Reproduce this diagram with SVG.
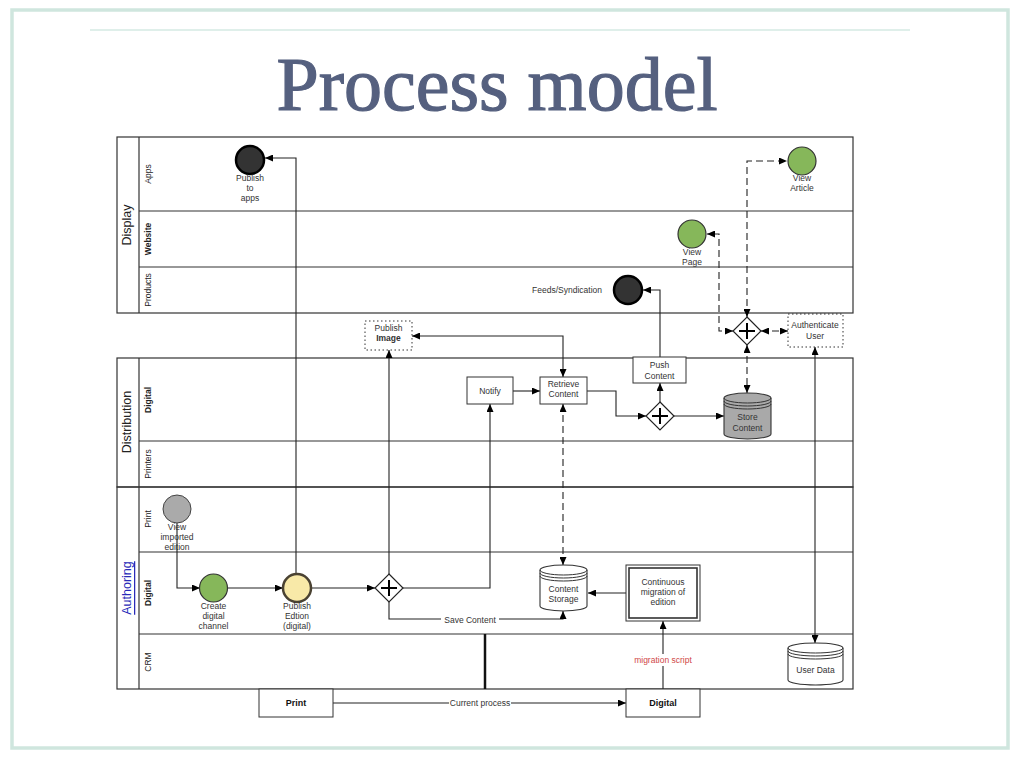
<svg xmlns="http://www.w3.org/2000/svg" width="1024" height="768" viewBox="0 0 1024 768">
<defs>
<marker id="arr" viewBox="0 0 8 7" refX="8" refY="3.5" markerWidth="8" markerHeight="7" markerUnits="userSpaceOnUse" orient="auto-start-reverse">
<path d="M0,0 L8,3.5 L0,7 z" fill="#000"/>
</marker>
<g id="plus"><path d="M-8,0 H8 M0,-8 V8" stroke="#000" stroke-width="2"/></g>
</defs>
<style>
.pool{fill:none;stroke:#333;stroke-width:1.2}
.lane{stroke:#333;stroke-width:1.2}
.t{font-family:"Liberation Sans",Arial,sans-serif;font-size:8.5px;fill:#333;text-anchor:middle}
.lbl{font-family:"Liberation Sans",Arial,sans-serif;font-size:8.5px;fill:#222;text-anchor:middle;dominant-baseline:central}
.b{font-weight:bold}
.plbl{font-family:"Liberation Sans",Arial,sans-serif;font-size:12.5px;fill:#222;text-anchor:middle;dominant-baseline:central}
.box{fill:#fff;stroke:#333;stroke-width:1}
.dot{fill:#fff;stroke:#333;stroke-width:1;stroke-dasharray:1.5,2.5}
.gw{fill:#fff;stroke:#222;stroke-width:1.2}
.c{fill:none;stroke:#222;stroke-width:1.1}
.d{fill:none;stroke:#222;stroke-width:1.1;stroke-dasharray:7,4}
.ah{marker-end:url(#arr)}
.ab{marker-end:url(#arr);marker-start:url(#arr)}
</style>
<rect width="1024" height="768" fill="#fff"/>
<!-- slide frame -->
<rect x="12" y="10" width="996" height="738" fill="none" stroke="#cfe6de" stroke-width="3.5"/>
<line x1="90" y1="30" x2="910" y2="30" stroke="#bfe0d6" stroke-width="1.2"/>
<text x="497" y="110" font-family="'Liberation Serif','Times New Roman',serif" font-size="76" fill="#55607f" stroke="#55607f" stroke-width="1.2" text-anchor="middle">Process model</text>

<!-- pools -->
<g id="pool-display">
<rect class="pool" x="117" y="137" width="736" height="176"/>
<line class="lane" x1="139" y1="137" x2="139" y2="313"/>
<line class="lane" x1="139" y1="211" x2="853" y2="211"/>
<line class="lane" x1="139" y1="267" x2="853" y2="267"/>
<text class="plbl" transform="translate(127,225) rotate(-90)">Display</text>
<text class="lbl" transform="translate(148,174) rotate(-90)">Apps</text>
<text class="lbl b" transform="translate(148,239) rotate(-90)">Website</text>
<text class="lbl" transform="translate(148,290) rotate(-90)">Products</text>
</g>
<g id="pool-distribution">
<rect class="pool" x="117" y="358" width="736" height="129"/>
<line class="lane" x1="139" y1="358" x2="139" y2="487"/>
<line class="lane" x1="139" y1="441" x2="853" y2="441"/>
<text class="plbl" transform="translate(127,422) rotate(-90)">Distribution</text>
<text class="lbl b" transform="translate(148,400) rotate(-90)">Digital</text>
<text class="lbl" transform="translate(148,464) rotate(-90)">Printers</text>
</g>
<g id="pool-authoring">
<rect class="pool" x="117" y="487" width="736" height="202"/>
<line class="lane" x1="139" y1="487" x2="139" y2="689"/>
<line class="lane" x1="139" y1="552" x2="853" y2="552"/>
<line class="lane" x1="139" y1="634" x2="853" y2="634"/>
<text class="plbl" transform="translate(127,588) rotate(-90)" style="fill:#2a2ab8;text-decoration:underline">Authoring</text>
<text class="lbl" transform="translate(148,519) rotate(-90)">Print</text>
<text class="lbl b" transform="translate(148,593) rotate(-90)">Digital</text>
<text class="lbl" transform="translate(148,662) rotate(-90)">CRM</text>
</g>

<!-- connectors -->
<g id="connectors">
<polyline class="c ah" points="296,574 296,158 265,158"/>
<polyline class="d ab" points="747,317 747,161 787,161"/>
<polyline class="d ab" points="733,331 719,331 719,234 707,234"/>
<polyline class="c ah" points="660,357 660,290 643,290"/>
<line class="d ab" x1="761" y1="331" x2="788" y2="331"/>
<line class="c ab" x1="815" y1="347" x2="815" y2="643"/>
<line class="d ab" x1="747" y1="345" x2="747" y2="393"/>
<polyline class="c ab" points="563,377 563,336 412,336"/>
<line class="c ah" x1="389" y1="574" x2="389" y2="350"/>
<line class="c ah" x1="513" y1="391" x2="540" y2="391"/>
<polyline class="c ah" points="403,588 490,588 490,404"/>
<polyline class="c ah" points="587,391 616,391 616,416 646,416"/>
<line class="c ah" x1="660" y1="402" x2="660" y2="383"/>
<line class="c ah" x1="673" y1="416" x2="724" y2="416"/>
<line class="d ab" x1="563" y1="404" x2="563" y2="565"/>
<polyline class="c ah" points="177,523 177,588 200,588"/>
<line class="c ah" x1="227" y1="588" x2="283" y2="588"/>
<line class="c ah" x1="311" y1="588" x2="375" y2="588"/>
<polyline class="c ah" points="389,602 389,619 563,619 563,611"/>
<rect x="441" y="613" width="58" height="12" fill="#fff"/>
<text class="t" x="470" y="622.5">Save Content</text>
<line class="c ah" x1="626" y1="593" x2="588" y2="593"/>
<line class="c ah" x1="663" y1="689" x2="663" y2="621"/>
<rect x="632" y="654" width="62" height="12" fill="#fff"/>
<text class="t" x="663" y="663" style="fill:#d04848">migration script</text>
<line class="c ah" x1="333" y1="703" x2="626" y2="703"/>
<rect x="449" y="697" width="62" height="12" fill="#fff"/>
<text class="t" x="480" y="706">Current process</text>
<line x1="485" y1="634" x2="485" y2="689" stroke="#111" stroke-width="2.5"/>
</g>

<!-- nodes -->
<g id="publish-to-apps">
<circle cx="250" cy="160" r="14" fill="#333" stroke="#000" stroke-width="2.5"/>
<text class="t" x="250" y="181">Publish</text><text class="t" x="250" y="191">to</text><text class="t" x="250" y="201">apps</text>
</g>
<g id="view-article">
<circle cx="802" cy="161" r="14" fill="#86b75a" stroke="#333" stroke-width="1.2"/>
<text class="t" x="802" y="181">View</text><text class="t" x="802" y="191">Article</text>
</g>
<g id="view-page">
<circle cx="692" cy="234" r="14" fill="#86b75a" stroke="#333" stroke-width="1.2"/>
<text class="t" x="692" y="255">View</text><text class="t" x="692" y="265">Page</text>
</g>
<g id="feeds">
<circle cx="628" cy="290" r="14" fill="#333" stroke="#000" stroke-width="2.5"/>
<text class="t" x="602" y="293" style="text-anchor:end">Feeds/Syndication</text>
</g>
<g id="gateway-display">
<polygon class="gw" points="747,317 761,331 747,345 733,331"/>
<use href="#plus" x="747" y="331"/>
</g>
<g id="authenticate-user">
<rect class="dot" x="788" y="314" width="55" height="33"/>
<text class="t" x="815" y="328">Authenticate</text><text class="t" x="815" y="339">User</text>
</g>
<g id="publish-image">
<rect class="dot" x="365" y="321" width="47" height="29"/>
<text class="t" x="388.5" y="331">Publish</text><text class="t b" x="388.5" y="341">Image</text>
</g>
<g id="notify">
<rect class="box" x="467" y="377" width="46" height="27"/>
<text class="t" x="490" y="393.5">Notify</text>
</g>
<g id="retrieve-content">
<rect class="box" x="540" y="377" width="47" height="27"/>
<text class="t" x="563.5" y="387">Retrieve</text><text class="t" x="563.5" y="397">Content</text>
</g>
<g id="push-content">
<rect class="box" x="633" y="357" width="53" height="26"/>
<text class="t" x="659.5" y="368">Push</text><text class="t" x="659.5" y="379">Content</text>
</g>
<g id="gateway-distribution">
<polygon class="gw" points="660,402 674,416 660,430 646,416"/>
<use href="#plus" x="660" y="416"/>
</g>
<g id="store-content">
<path d="M724,398 A23.5,5 0 0 1 771,398 V434 A23.5,5 0 0 1 724,434 Z" fill="#a9a9a9" stroke="#333" stroke-width="1.1"/>
<path d="M724,398 A23.5,5 0 0 0 771,398 M724,401 A23.5,5 0 0 0 771,401 M724,404 A23.5,5 0 0 0 771,404" fill="none" stroke="#333" stroke-width="1"/>
<text class="t" x="747.5" y="420">Store</text><text class="t" x="747.5" y="431">Content</text>
</g>
<g id="view-imported-edition">
<circle cx="177" cy="509" r="14" fill="#aaa" stroke="#444" stroke-width="1"/>
<text class="t" x="177" y="530">View</text><text class="t" x="177" y="540">imported</text><text class="t" x="177" y="550">edition</text>
</g>
<g id="create-digital-channel">
<circle cx="213.5" cy="588" r="14" fill="#86b75a" stroke="#333" stroke-width="1.2"/>
<text class="t" x="213.5" y="609">Create</text><text class="t" x="213.5" y="619">digital</text><text class="t" x="213.5" y="629">channel</text>
</g>
<g id="publish-edition">
<circle cx="297" cy="588" r="14" fill="#f8e9a8" stroke="#4a4232" stroke-width="2.5"/>
<text class="t" x="297" y="609">Publish</text><text class="t" x="297" y="619">Edtion</text><text class="t" x="297" y="629">(digital)</text>
</g>
<g id="gateway-authoring">
<polygon class="gw" points="389,574 403,588 389,602 375,588"/>
<use href="#plus" x="389" y="588"/>
</g>
<g id="content-storage">
<path d="M540,570 A23.5,5 0 0 1 587,570 V606 A23.5,5 0 0 1 540,606 Z" fill="#fff" stroke="#333" stroke-width="1.1"/>
<path d="M540,570 A23.5,5 0 0 0 587,570 M540,573 A23.5,5 0 0 0 587,573 M540,576 A23.5,5 0 0 0 587,576" fill="none" stroke="#333" stroke-width="1"/>
<text class="t" x="563.5" y="592">Content</text><text class="t" x="563.5" y="602">Storage</text>
</g>
<g id="continuous-migration">
<rect class="box" x="626" y="565" width="74" height="56" stroke-width="1.2"/>
<rect x="629" y="568" width="68" height="50" fill="none" stroke="#333" stroke-width="1.6"/>
<text class="t" x="663" y="585">Continuous</text><text class="t" x="663" y="595">migration of</text><text class="t" x="663" y="605">edition</text>
</g>
<g id="user-data">
<path d="M788,648 A27.5,5 0 0 1 843,648 V680 A27.5,5 0 0 1 788,680 Z" fill="#fff" stroke="#333" stroke-width="1.1"/>
<path d="M788,648 A27.5,5 0 0 0 843,648 M788,651 A27.5,5 0 0 0 843,651 M788,654 A27.5,5 0 0 0 843,654" fill="none" stroke="#333" stroke-width="1"/>
<text class="t" x="815.5" y="673">User Data</text>
</g>
<g id="print">
<rect class="box" x="259" y="689" width="74" height="28" stroke="#555"/>
<text class="t b" x="296" y="706" style="font-size:9px;fill:#111">Print</text>
</g>
<g id="digital">
<rect class="box" x="626" y="689" width="74" height="28" stroke="#555"/>
<text class="t b" x="663" y="706" style="font-size:9px;fill:#111">Digital</text>
</g>
</svg>
